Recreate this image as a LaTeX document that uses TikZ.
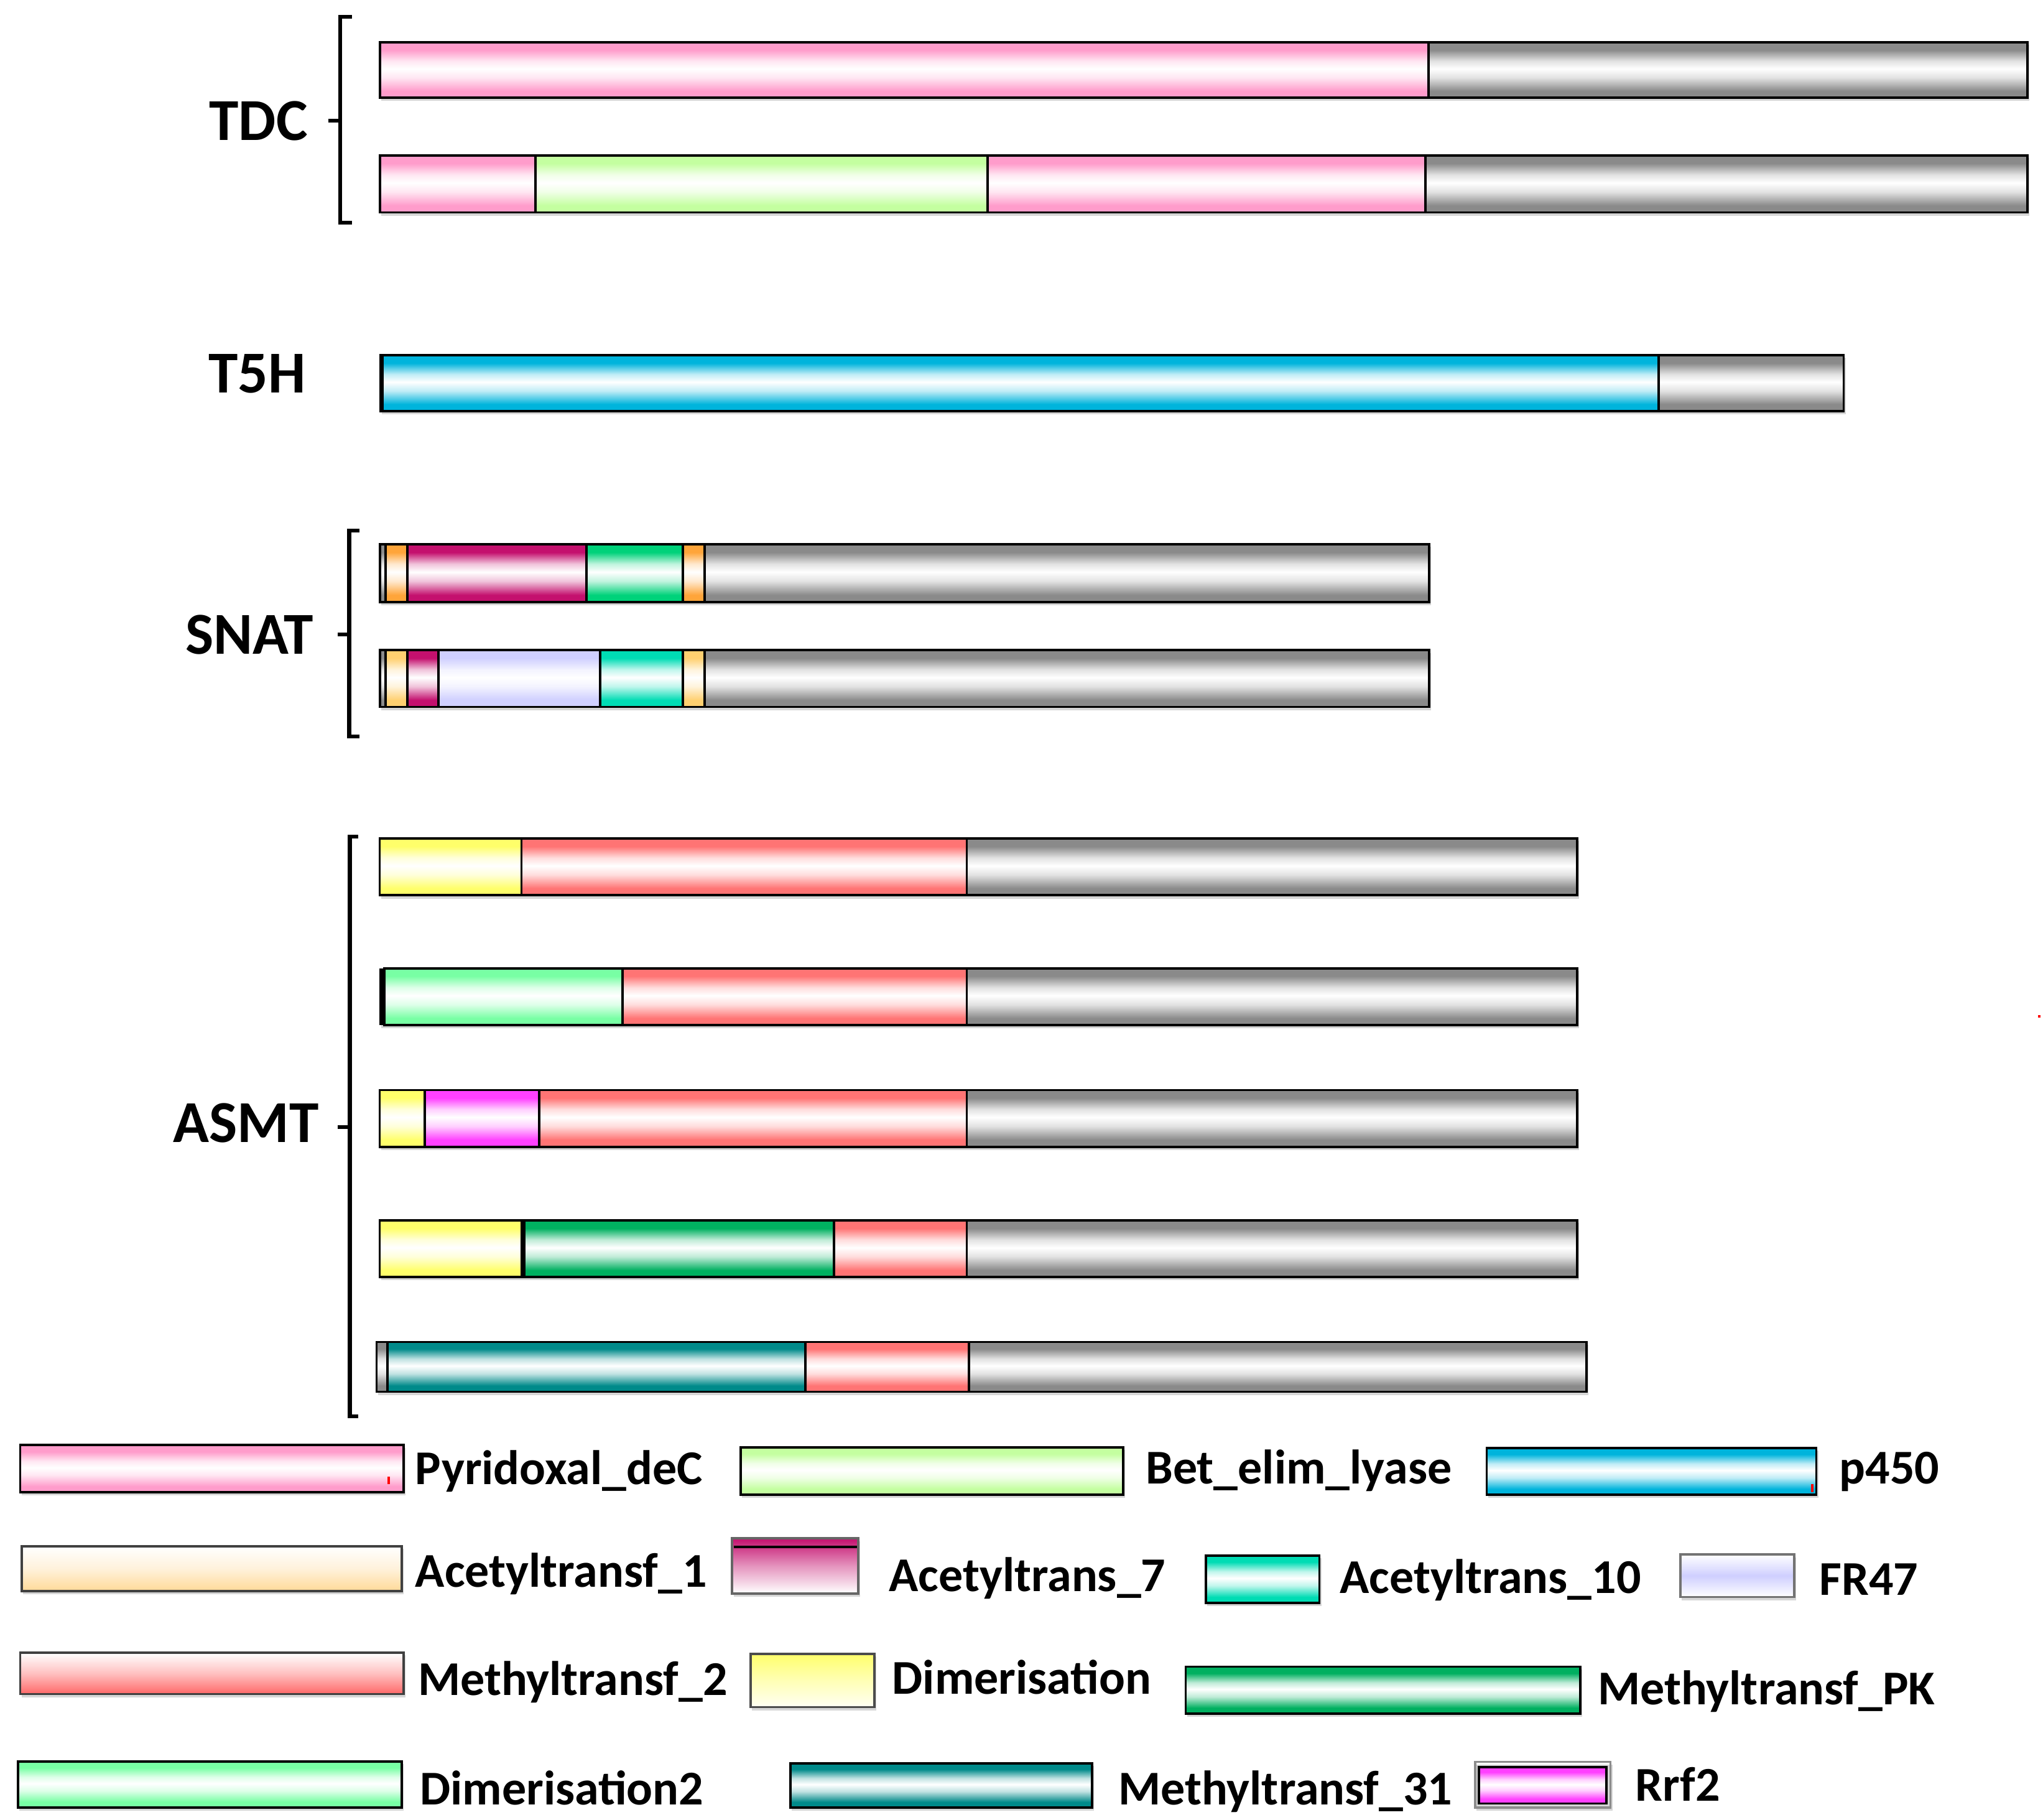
\documentclass[tikz,border=0pt]{standalone}
\usepackage{fontspec}
\newfontfamily\carl{Carlito}
\colorlet{glossc}{gray}
\colorlet{glossm}{white}
\pgfdeclareverticalshading[glossc,glossm]{gloss}{100bp}{color(0bp)=(glossc); color(25bp)=(glossc); color(31bp)=(glossc); color(43bp)=(glossm); color(51bp)=(white); color(58bp)=(glossm); color(68bp)=(glossc); color(75bp)=(glossc); color(100bp)=(glossc)}
\definecolor{cgrey}{HTML}{8A8A8A}
\definecolor{cpink}{HTML}{FF9CCB}
\definecolor{cbet}{HTML}{C4FFA0}
\definecolor{ccyan}{HTML}{00B4DC}
\definecolor{corange}{HTML}{FFA53A}
\definecolor{clorange}{HTML}{FFD070}
\definecolor{cmag}{HTML}{C4106E}
\definecolor{cteal}{HTML}{00D27A}
\definecolor{ctealb}{HTML}{00DCB4}
\definecolor{clav}{HTML}{CFCFFF}
\definecolor{csalmon}{HTML}{FF7474}
\definecolor{cyellow}{HTML}{FFFF6A}
\definecolor{clgreen}{HTML}{78FFA4}
\definecolor{crrf}{HTML}{FF40FF}
\definecolor{cdkgreen}{HTML}{00B060}
\definecolor{cteal31}{HTML}{008A8A}
\definecolor{cpeach}{HTML}{FFD998}
\newcommand\dom[5]{\colorlet{glossc}{#5}\colorlet{glossm}{#5!25!white}\shadedraw[shading=gloss,draw=black,line width=1.1pt] (#1,#3) rectangle (#2,#4);}
\newcommand\shadowbar[4]{\fill[black!16] ({#1+1},{#3+2}) rectangle ({#2+1.5},{#4+2.5});}
\begin{document}
\begin{tikzpicture}[x=0.02095cm,y=-0.02095cm,
  lab/.style={font=\carl\bfseries\fontsize{27.2pt}{30pt}\selectfont,inner sep=0pt,anchor=east},
  leg/.style={font=\carl\bfseries\fontsize{22.2pt}{26pt}\selectfont,inner sep=0pt,anchor=base west},
  brk/.style={line width=1.8pt,black}]
\useasboundingbox (0,0) rectangle (1568,1396.2);
\fill[white] (0,0) rectangle (1568,1396.2);

% ---------- labels ----------
\node[lab] (tdc) at (236.5,93) {TDC};
\node[lab] (t5h) at (235,287) {T5H};
\node[lab] (snat) at (241,487) {SNAT};
\node[lab] (asmt) at (245,862) {ASMT};

% ---------- brackets ----------
\draw[brk] (270,13) -- (261,13) -- (261,171) -- (270,171);
\draw[brk] (261,92.5) -- (252,92.5);
\draw[brk] (276,407) -- (268,407) -- (268,565) -- (276,565);
\draw[brk] (268,487) -- (259,487);
\draw[brk] (275,642) -- (268.5,642) -- (268.5,1087) -- (275,1087);
\draw[brk] (268.5,865) -- (259,865);

% ---------- TDC ----------
\shadowbar{291.5}{1556}{32.4}{75}
\dom{291.5}{1096.5}{32.4}{75}{cpink}
\dom{1096.5}{1556}{32.4}{75}{cgrey}
\shadowbar{291.5}{1556}{119.3}{163}
\dom{291.5}{410.8}{119.3}{163}{cpink}
\dom{410.8}{758}{119.3}{163}{cbet}
\dom{758}{1094}{119.3}{163}{cpink}
\dom{1094}{1556}{119.3}{163}{cgrey}

% ---------- T5H ----------
\shadowbar{292}{1415}{272.7}{315.4}
\dom{292}{1273}{272.7}{315.4}{ccyan}
\dom{1273}{1415}{272.7}{315.4}{cgrey}
\fill[black] (292,272.7) rectangle (294.5,315.4);

% ---------- SNAT ----------
\shadowbar{291.8}{1097}{417.7}{462}
\dom{291.8}{296}{417.7}{462}{cgrey}
\dom{296}{312.7}{417.7}{462}{corange}
\dom{312.7}{450}{417.7}{462}{cmag}
\dom{450}{524}{417.7}{462}{cteal}
\dom{524}{540.8}{417.7}{462}{corange}
\dom{540.8}{1097}{417.7}{462}{cgrey}
\shadowbar{291.8}{1097}{499}{542.5}
\dom{291.8}{296}{499}{542.5}{cgrey}
\dom{296}{312.7}{499}{542.5}{clorange}
\dom{312.7}{336.6}{499}{542.5}{cmag}
\dom{336.6}{460.7}{499}{542.5}{clav}
\dom{460.7}{524}{499}{542.5}{ctealb}
\dom{524}{540.8}{499}{542.5}{clorange}
\dom{540.8}{1097}{499}{542.5}{cgrey}

% ---------- ASMT ----------
\shadowbar{291.4}{1210.5}{643.5}{687}
\dom{291.4}{400.2}{643.5}{687}{cyellow}
\dom{400.2}{742}{643.5}{687}{csalmon}
\dom{742}{1210.5}{643.5}{687}{cgrey}

\shadowbar{291.4}{1210.5}{743}{786.7}
\dom{294.8}{477.6}{743}{786.7}{clgreen}
\dom{477.6}{742}{743}{786.7}{csalmon}
\dom{742}{1210.5}{743}{786.7}{cgrey}
\fill[black] (291.4,743) rectangle (295,786.7);

\shadowbar{291.4}{1210.5}{836.5}{880}
\dom{291.4}{326}{836.5}{880}{cyellow}
\dom{326}{414}{836.5}{880}{crrf}
\dom{414}{742}{836.5}{880}{csalmon}
\dom{742}{1210.5}{836.5}{880}{cgrey}

\shadowbar{291.4}{1210.5}{936.6}{980}
\dom{291.4}{400.5}{936.6}{980}{cyellow}
\dom{402.5}{640}{936.6}{980}{cdkgreen}
\dom{640}{742}{936.6}{980}{csalmon}
\dom{742}{1210.5}{936.6}{980}{cgrey}
\fill[black] (400,936.6) rectangle (403,980);

\shadowbar{289}{1217.7}{1029.8}{1068}
\dom{289}{297.4}{1029.8}{1068}{cgrey}
\dom{297.4}{618}{1029.8}{1068}{cteal31}
\dom{618}{743.5}{1029.8}{1068}{csalmon}
\dom{743.5}{1217.7}{1029.8}{1068}{cgrey}

\fill[red] (1564,779) rectangle (1566,781);

% ---------- legend ----------
% row 1
\shadowbar{15.5}{309.6}{1109}{1145}
\dom{15.5}{309.6}{1109}{1145}{cpink}
\fill[red] (297.5,1133) rectangle (299.5,1139);
\node[leg] (lpyr) at (318.5,1139) {Pyridoxal\_deC};
\shadowbar{568.5}{862}{1110.6}{1147}
\dom{568.5}{862}{1110.6}{1147}{cbet}
\node[leg] (lbet) at (879,1138.5) {Bet\_elim\_lyase};
\shadowbar{1141}{1394}{1111}{1147}
\dom{1141}{1394}{1111}{1147}{ccyan}
\fill[red] (1390,1139) rectangle (1392,1145);
\node[leg] (lp450) at (1411.5,1138.5) {p450};
% row 2
\shadowbar{16.6}{308.5}{1186.7}{1221}
\shadedraw[top color=white,bottom color=cpeach,middle color=cpeach!35!white,draw=black!75,line width=1.1pt] (16.6,1186.7) rectangle (308.5,1221);
\node[leg] (lac1) at (318.5,1218) {Acetyltransf\_1};
\shadowbar{562}{658.6}{1180.6}{1222.7}
\shadedraw[top color=cmag,bottom color=white,middle color=cmag!45!white,draw=black!60,line width=1.1pt] (562,1180.6) rectangle (658.6,1222.7);
\draw[black,line width=1.3pt] (563,1187) -- (657.6,1187);
\node[leg] (lac7) at (682,1221) {Acetyltrans\_7};
\shadowbar{925.4}{1012.6}{1193.6}{1230}
\dom{925.4}{1012.6}{1193.6}{1230}{ctealb}
\node[leg] (lac10) at (1028,1222.5) {Acetyltrans\_10};
\shadowbar{1289.8}{1377}{1193}{1225.5}
\shadedraw[top color=white,bottom color=white,middle color=clav,draw=black!55,line width=1.1pt] (1289.8,1193) rectangle (1377,1225.5);
\node[leg] (lfr) at (1396,1224) {FR47};
% row 3
\shadowbar{15.5}{309.6}{1268.3}{1300}
\shadedraw[top color=white,bottom color=csalmon!90!red,middle color=csalmon!45!white,draw=black!75,line width=1.1pt] (15.5,1268.3) rectangle (309.6,1300);
\node[leg] (lmt2) at (320.5,1301) {Methyltransf\_2};
\shadowbar{576}{671}{1269}{1310}
\shadedraw[top color=cyellow,bottom color=cyellow!8!white,middle color=cyellow!50!white,draw=black!70,line width=1.1pt] (576,1269) rectangle (671,1310);
\node[leg] (ldim) at (684.5,1300) {Dimerisation};
\shadowbar{910}{1213}{1279}{1315}
\dom{910}{1213}{1279}{1315}{cdkgreen}
\node[leg] (lpk) at (1226,1308) {Methyltransf\_PK};
% row 4
\shadowbar{14}{308.5}{1351.6}{1387}
\dom{14}{308.5}{1351.6}{1387}{clgreen}
\node[leg] (ldim2) at (322,1385) {Dimerisation2};
\shadowbar{606.7}{838}{1353}{1387}
\dom{606.7}{838}{1353}{1387}{cteal31}
\node[leg] (lmt31) at (858,1385) {Methyltransf\_31};
\shadowbar{1132}{1236}{1352}{1387}
\draw[black!45,line width=1.1pt] (1132,1352) rectangle (1236,1387);
\dom{1135}{1233}{1356}{1384}{crrf}
\node[leg] (lrrf) at (1255,1382) {Rrf2};
\end{tikzpicture}
\end{document}
